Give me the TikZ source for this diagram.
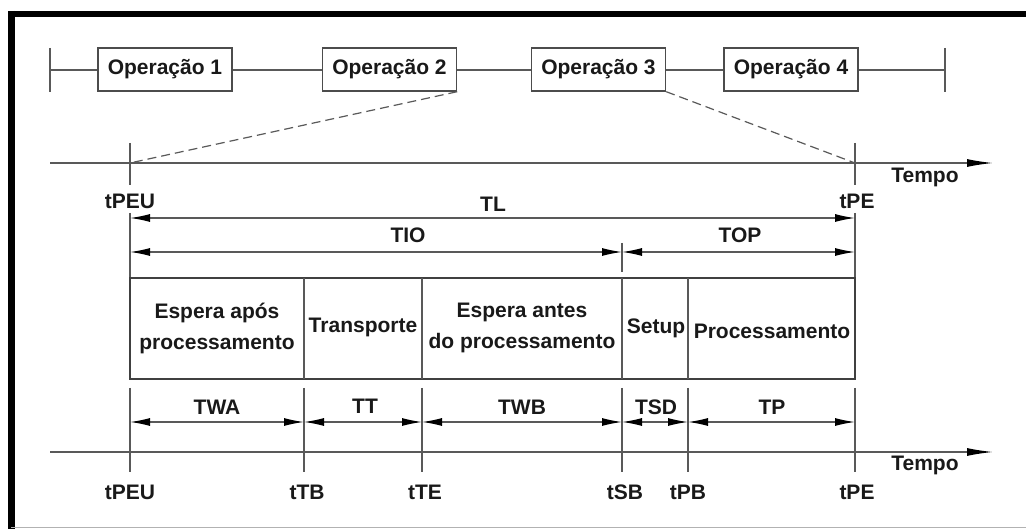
\documentclass[tikz,border=0pt]{standalone}
\usepackage{fontspec}
\setmainfont{Liberation Sans}
\usetikzlibrary{arrows.meta}
\begin{document}
\begin{tikzpicture}[x=1pt,y=-1pt,
  txt/.style={font=\fontsize{21}{31}\selectfont\bfseries, inner sep=0pt, text=black!90, align=center},
  ln/.style={draw=black!65, line width=1.3pt},
  boxln/.style={draw=black!75, line width=1.8pt},
  opbox/.style={draw=black!70, line width=1.4pt, fill=white, minimum width=134pt, minimum height=43pt, inner sep=0pt, font=\fontsize{21}{25}\selectfont\bfseries, text=black!90},
  dimarr/.style={ln, {Latex[length=20pt,width=8pt,black]}-{Latex[length=20pt,width=8pt,black]}},
  axisarr/.style={ln, -{Latex[length=26pt,width=8pt,black]}},
  dashln/.style={draw=black!65, line width=1.2pt, dash pattern=on 9pt off 5pt}
]
\useasboundingbox (0,0) rectangle (1026,529);
% outer frame
\draw[line width=6pt] (8,14) -- (1026,14);
\draw[line width=7pt] (11,11) -- (11,529);
\draw[black!30, line width=1.5pt] (11,527.5) -- (1026,527.5);

% top timeline
\coordinate (tl0) at (50,70);
\coordinate (tl1) at (945,70);
\draw[ln] (tl0) -- (tl1);
\draw[ln] (50,48) -- (50,92);
\draw[ln] (945,48) -- (945,92);
\node[opbox] (op1) at (165,69.5) {Operação 1};
\node[opbox] (op2) at (389.5,69.5) {Operação 2};
\node[opbox] (op3) at (598.5,69.5) {Operação 3};
\node[opbox] (op4) at (791,69.5) {Operação 4};

% middle axis
\coordinate (ma0) at (50,163);
\coordinate (ma1) at (993,163);
\coordinate (mU) at (130,163);
\coordinate (mE) at (855,163);
\draw[axisarr] (ma0) -- (ma1);
\draw[ln] (130,143) -- (130,185);
\draw[ln] (855,143) -- (855,185);
\draw[dashln] (op2.south east) -- (mU);
\draw[dashln] (op3.south east) -- (mE);
\node[txt] (tempo1) at (925,177) {Tempo};
\node[txt] (tpeu1) at (130,201) {tPEU};
\node[txt] (tpe1) at (857,201) {tPE};

% vertical lines to box
\draw[ln] (130,213) -- (130,278);
\draw[ln] (855,213) -- (855,278);
\draw[ln] (622,243) -- (622,272);

% TL, TIO, TOP
\coordinate (tlA) at (130,218);
\coordinate (tlB) at (855,218);
\draw[dimarr] (tlA) -- (tlB);
\node[txt] (TL) at (493,204) {TL};
\coordinate (tioA) at (130,252);
\coordinate (tioB) at (622,252);
\coordinate (topB) at (855,252);
\draw[dimarr] (tioA) -- (tioB);
\draw[dimarr] (tioB) -- (topB);
\node[txt] (TIO) at (408,235) {TIO};
\node[txt] (TOP) at (740,235) {TOP};

% main box
\draw[boxln] (130,278) rectangle (855,379);
\foreach \xx in {304,422,622,688} \draw[ln] (\xx,278) -- (\xx,379);
\node[txt] (b1) at (217,328) {Espera após\\processamento};
\node[txt] (b2) at (363,327) {Transporte};
\node[txt] (b3) at (522,328) {Espera antes\\do processamento};
\node[txt] (b4) at (656,328) {Setup};
\node[txt] (b5) at (772,331) {Processamento};

% bottom ticks and dimensions
\foreach \xx in {130,304,422,622,688,855} \draw[ln] (\xx,388) -- (\xx,472);
\coordinate (d1) at (130,422);
\coordinate (d2) at (304,422);
\coordinate (d3) at (422,422);
\coordinate (d4) at (622,422);
\coordinate (d5) at (688,422);
\coordinate (d6) at (855,422);
\draw[dimarr] (d1) -- (d2);
\draw[dimarr] (d2) -- (d3);
\draw[dimarr] (d3) -- (d4);
\draw[dimarr] (d4) -- (d5);
\draw[dimarr] (d5) -- (d6);
\node[txt] (TWA) at (217,407) {TWA};
\node[txt] (TT) at (365,406) {TT};
\node[txt] (TWB) at (522,407) {TWB};
\node[txt] (TSD) at (656,407) {TSD};
\node[txt] (TP) at (772,407) {TP};

% bottom axis
\coordinate (ba0) at (50,452);
\coordinate (ba1) at (993,452);
\draw[axisarr] (ba0) -- (ba1);
\node[txt] (tempo2) at (925,465) {Tempo};
\node[txt] (l1) at (130,492) {tPEU};
\node[txt] (l2) at (307,492) {tTB};
\node[txt] (l3) at (425,492) {tTE};
\node[txt] (l4) at (625,492) {tSB};
\node[txt] (l5) at (688,492) {tPB};
\node[txt] (l6) at (857,492) {tPE};
\end{tikzpicture}
\end{document}
